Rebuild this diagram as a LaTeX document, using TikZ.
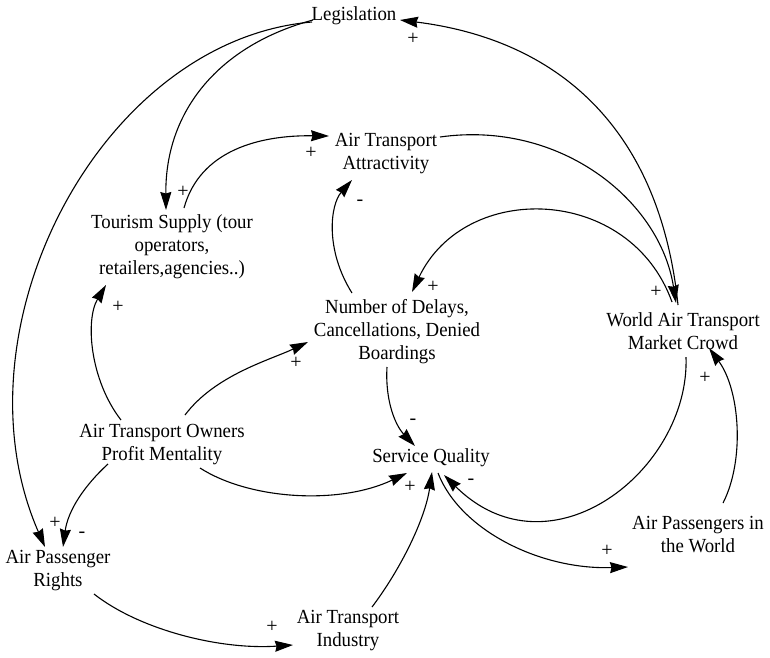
\documentclass[tikz,border=0pt]{standalone}
\usepackage{fontspec}
\setmainfont{Liberation Serif}[FakeStretch=0.94]
\newfontfamily\polfont{Liberation Serif}
\usetikzlibrary{arrows.meta}
\begin{document}
\begin{tikzpicture}[x=1pt,y=-1pt,
  var/.style={font=\fontsize{20}{23}\selectfont, align=center, inner sep=1pt},
  pol/.style={font=\polfont\fontsize{20}{20}\selectfont, inner sep=0pt},
  link/.style={line width=1.1pt, -{Stealth[length=18pt,width=11pt,inset=1.5pt]}}]
\useasboundingbox (0,0) rectangle (770,657);
% variables
\node[var] (leg) at (354,16) {Legislation};
\node[var] (attr) at (386,154) {Air Transport\\Attractivity};
\node[var] (tour) at (172,247) {Tourism Supply (tour\\operators,\\retailers,agencies..)};
\node[var] (delay) at (397,332) {Number of Delays,\\Cancellations, Denied\\Boardings};
\node[var] (world) at (683,331) {World Air Transport\\Market Crowd};
\node[var] (owner) at (162,445) {Air Transport Owners\\Profit Mentality};
\node[var] (sq) at (431,458) {Service Quality};
\node[var] (apw) at (698,535) {Air Passengers in\\the World};
\node[var] (rights) at (58,571) {Air Passenger\\Rights};
\node[var] (ind) at (348,631) {Air Transport\\Industry};
% links
\draw[link] ([shift={(-41,4)}]leg.center) .. controls (220,45) and (165,110) .. ([shift={(-6,-37)}]tour.center);
\draw[link] ([shift={(-42,6)}]leg.center) .. controls (100,40) and (-50,330) .. ([shift={(-13,-24)}]rights.center);
\draw[link] ([shift={(-5,-26)}]world.center) .. controls (660,130) and (560,40) .. ([shift={(46,4)}]leg.center);
\draw[link] ([shift={(12,-39)}]tour.center) .. controls (200,150) and (260,135) .. ([shift={(-57,-18)}]attr.center);
\draw[link] ([shift={(54,-17)}]attr.center) .. controls (560,120) and (660,200) .. ([shift={(-7,-28)}]world.center);
\draw[link] ([shift={(-45,-39)}]delay.center) .. controls (325,250) and (330,205) .. ([shift={(-34,26)}]attr.center);
\draw[link] ([shift={(-11,-29)}]world.center) .. controls (630,185) and (465,180) .. ([shift={(15,-40)}]delay.center);
\draw[link] ([shift={(-41,-25)}]owner.center) .. controls (90,380) and (85,320) .. ([shift={(-66,38)}]tour.center);
\draw[link] ([shift={(23,-30)}]owner.center) .. controls (215,375) and (270,360) .. ([shift={(-89,10)}]delay.center);
\draw[link] ([shift={(-10,35)}]delay.center) .. controls (385,400) and (395,425) .. ([shift={(-16,-12)}]sq.center);
\draw[link] ([shift={(38,23)}]owner.center) .. controls (250,500) and (340,505) .. ([shift={(-24,15)}]sq.center);
\draw[link] ([shift={(-54,19)}]owner.center) .. controls (85,485) and (68,510) .. ([shift={(5,-24)}]rights.center);
\draw[link] ([shift={(3,26)}]world.center) .. controls (690,470) and (550,580) .. ([shift={(13,17)}]sq.center);
\draw[link] ([shift={(25,-32)}]apw.center) .. controls (745,460) and (740,390) .. ([shift={(26,17)}]world.center);
\draw[link] ([shift={(7,15)}]sq.center) .. controls (460,530) and (540,570) .. ([shift={(-70,32)}]apw.center);
\draw[link] ([shift={(36,23)}]rights.center) .. controls (140,630) and (220,650) .. ([shift={(-55,14)}]ind.center);
\draw[link] ([shift={(24,-24)}]ind.center) .. controls (400,570) and (425,520) .. ([shift={(1,14)}]sq.center);
% polarities
\node[pol] (p1) at (183,192) {+};
\node[pol] (p2) at (55,523) {+};
\node[pol] (p3) at (413,39) {+};
\node[pol] (p4) at (311,153) {+};
\node[pol] (p5) at (656,292) {+};
\node[pol] (p6) at (360,203) {-};
\node[pol] (p7) at (433,287) {+};
\node[pol] (p8) at (118,307) {+};
\node[pol] (p9) at (296,363) {+};
\node[pol] (p10) at (413,422) {-};
\node[pol] (p11) at (410,487) {+};
\node[pol] (p12) at (82,535) {-};
\node[pol] (p13) at (471,482) {-};
\node[pol] (p14) at (705,378) {+};
\node[pol] (p15) at (607,551) {+};
\node[pol] (p16) at (272,627) {+};
\end{tikzpicture}
\end{document}
